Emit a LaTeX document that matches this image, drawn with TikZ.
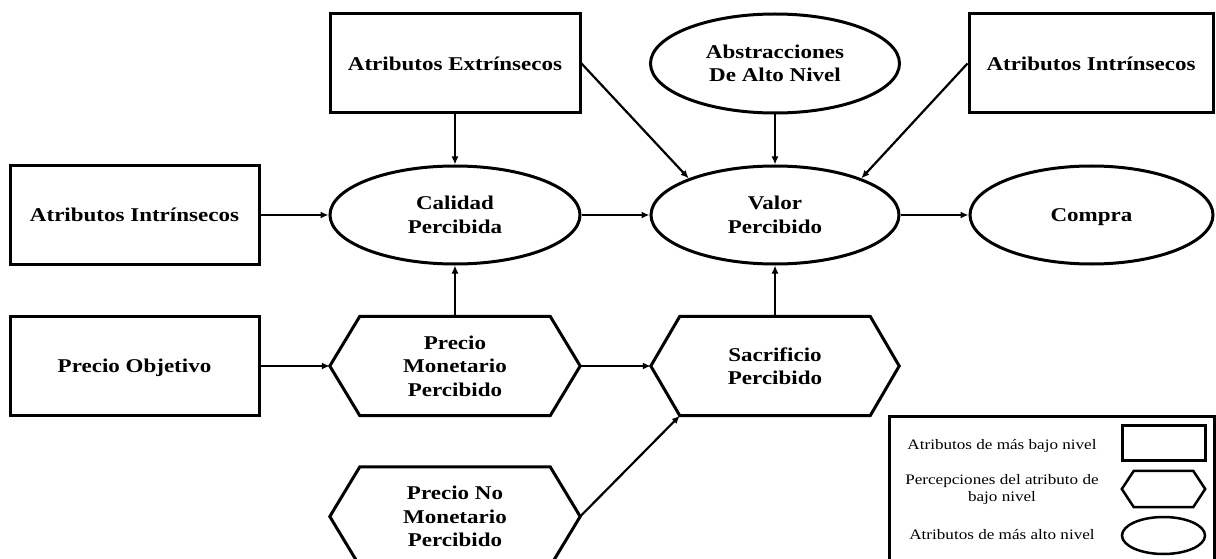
\documentclass[tikz,border=0pt]{standalone}
\usepackage{fontspec}
\setmainfont{Liberation Serif}[FakeStretch=1.18]
\usetikzlibrary{shapes.geometric,arrows.meta}
\begin{document}
\begin{tikzpicture}[x=1pt,y=-1pt,
  bigfont/.style={font=\bfseries\fontsize{19.5}{23.5}\selectfont},
  smallfont/.style={font=\fontsize{14.5}{17}\selectfont},
  oneline/.style={text height=17.5pt, text depth=4.3pt},
  box/.style={draw, line width=3pt, rectangle, inner sep=0pt, align=center, bigfont},
  ell/.style={draw, line width=3pt, ellipse, inner sep=0pt, align=center, bigfont},
  hexa/.style={rectangle, inner sep=0pt, align=center, bigfont},
  hexline/.style={line width=3pt, line join=miter},
  conn/.style={line width=2.2pt, -{Latex[length=8pt,width=7pt]}},
  legtext/.style={align=center, smallfont, inner sep=0pt},
]
\useasboundingbox (0,0) rectangle (1216,559);
\fill[white] (0,0) rectangle (1216,559);
\clip (0,0) rectangle (1216,559);

% top row
\node[box, oneline, minimum width=250pt, minimum height=99pt] (ext) at (455,63.5) {Atributos Extrínsecos};
\node[ell, minimum width=249pt, minimum height=99pt] (abs) at (775,63.5) {Abstracciones\\De Alto Nivel};
\node[box, oneline, minimum width=244pt, minimum height=99pt] (intR) at (1091,63.5) {Atributos Intrínsecos};

% middle row
\node[box, oneline, minimum width=249pt, minimum height=98pt] (intL) at (134.5,215) {Atributos Intrínsecos};
\node[ell, minimum width=250pt, minimum height=98pt] (cal) at (455,215) {Calidad\\Percibida};
\node[ell, minimum width=248pt, minimum height=98pt] (val) at (775,215) {Valor\\Percibido};
\node[ell, oneline, minimum width=243pt, minimum height=98pt] (com) at (1091.5,215) {Compra};

% lower rows
\node[box, oneline, minimum width=249pt, minimum height=99pt] (pobj) at (134.5,366) {Precio Objetivo};
\node[hexa, minimum width=250pt, minimum height=99pt] (pmp) at (455,366) {Precio\\Monetario\\Percibido};
\node[hexa, minimum width=248pt, minimum height=99pt] (sac) at (775,366) {Sacrificio\\Percibido};
\node[hexa, minimum width=250pt, minimum height=99pt] (pnmp) at (455,516.5) {Precio No\\Monetario\\Percibido};

\foreach \n/\d in {pmp/30, sac/29, pnmp/30}
  \draw[hexline] (\n.west) -- ([xshift=\d pt]\n.north west) -- ([xshift=-\d pt]\n.north east)
    -- (\n.east) -- ([xshift=-\d pt]\n.south east) -- ([xshift=\d pt]\n.south west) -- cycle;

\coordinate (sacBL) at ([xshift=29pt]sac.south west);

% connectors
\draw[conn] (intL.east) -- (cal.west);
\draw[conn] (ext.south) -- (cal.north);
\draw[conn] (cal.east) -- (val.west);
\draw[conn] (ext.east) -- (val.157);
\draw[conn] (abs.south) -- (val.north);
\draw[conn] (intR.west) -- (val.23);
\draw[conn] (val.east) -- (com.west);
\draw[conn] (pobj.east) -- (pmp.west);
\draw[conn] (pmp.north) -- (cal.south);
\draw[conn] (pmp.east) -- (sac.west);
\draw[conn] (pnmp.east) -- (sacBL);
\draw[conn] (sac.north) -- (val.south);

% legend
\node[draw, line width=2.5pt, rectangle, anchor=north west, minimum width=325pt, minimum height=165pt, inner sep=0pt] (leg) at (888,415) {};
\node[legtext] (l1) at (1002,446) {Atributos de más bajo nivel};
\node[legtext] (l2) at (1002,490) {Percepciones del atributo de\\bajo nivel};
\node[legtext] (l3) at (1002,535) {Atributos de más alto nivel};
\node[draw, line width=3pt, rectangle, minimum width=83pt, minimum height=35pt, inner sep=0pt] (lrect) at (1163.5,442.5) {};
\node[rectangle, minimum width=83pt, minimum height=36pt, inner sep=0pt] (lhex) at (1163.5,489) {};
\draw[line width=2.5pt, line join=miter] (lhex.west) -- ([xshift=12pt]lhex.north west) -- ([xshift=-12pt]lhex.north east)
    -- (lhex.east) -- ([xshift=-12pt]lhex.south east) -- ([xshift=12pt]lhex.south west) -- cycle;
\node[draw, line width=2.5pt, ellipse, minimum width=83pt, minimum height=37pt, inner sep=0pt] (lell) at (1163.5,535.5) {};
\end{tikzpicture}
\end{document}
